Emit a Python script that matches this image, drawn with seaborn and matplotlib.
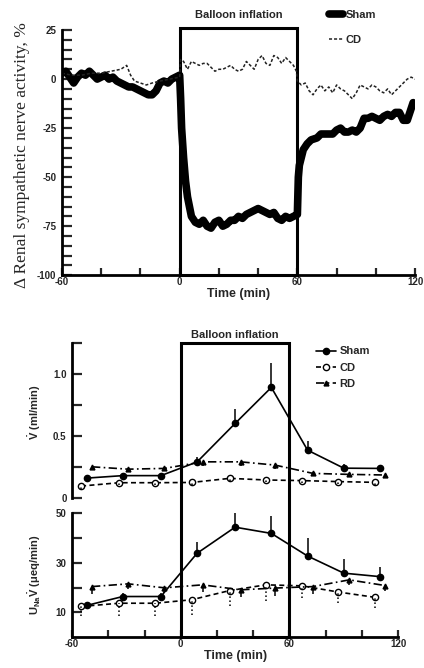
import numpy as np
import pandas as pd
import matplotlib.pyplot as plt
import matplotlib.transforms as mtransforms
from matplotlib.patches import Rectangle
import seaborn as sns

# top panel: renal sympathetic nerve activity (% change)
sham_t = [-60, -58, -56, -54, -52, -50, -48, -46, -44, -42, -40, -38, -36, -34, -32, -30,
          -28, -26, -24, -22, -20, -18, -16, -14, -12, -10, -8, -6, -4, -2, 0, 0.5, 1, 2,
          3, 4, 5, 6, 8, 10, 12, 14, 16, 18, 20, 22, 24, 26, 28, 30, 32, 34, 36, 38, 40,
          42, 44, 46, 48, 50, 52, 54, 56, 58, 60, 60.5, 61, 62, 63, 65, 67, 70, 72, 75,
          78, 80, 82, 84, 86, 88, 90, 92, 94, 96, 98, 100, 102, 104, 106, 108, 110, 112,
          114, 116, 118, 119]
sham_rsna = [3, 4, 1, -2, 1, 3, 2, 4, 2, 0, 1, 2, 0, 1, -1, -2,
             -3, -4, -4, -5, -6, -7, -8, -8, -6, -2, -1, -2, 0, 1, 2, -10, -25, -40,
             -52, -60, -65, -70, -73, -74, -72, -75, -76, -73, -72, -75, -74, -72, -72, -70, -71, -69, -68, -67, -66,
             -67, -68, -69, -68, -71, -72, -70, -71, -70, -69, -50, -44, -40, -36, -33, -31, -30, -28, -28,
             -28, -26, -25, -27, -27, -26, -27, -25, -20, -20, -19, -20, -21, -19, -18, -19, -17, -17,
             -21, -21, -15, -12]

cd_t = [-60, -55, -50, -45, -40, -35, -30, -27, -25, -23, -20, -17, -14, -10, -5, 0, 0.5,
        2, 4, 6, 8, 10, 12, 14, 16, 18, 20, 22, 24, 26, 28, 30, 32, 34, 36, 38, 40, 42,
        44, 46, 48, 50, 52, 54, 56, 58, 59.5, 60, 62, 64, 66, 68, 70, 72, 74, 76, 78, 80,
        82, 84, 86, 88, 90, 92, 94, 96, 98, 100, 102, 104, 106, 108, 110, 112, 114, 116,
        118, 120]
cd_rsna = [3, 2, 2, 3, 3, 4, 5, 7, 2, -1, -2, -3, -2, -1, 0, 1, 10,
           9, 5, 9, 8, 7, 8, 8, 6, 4, 5, 5, 6, 7, 5, 4, 5, 9, 7, 5, 10, 12,
           8, 7, 12, 11, 8, 11, 9, 7, 4, -1, -3, -2, -6, -8, -5, -3, -6, -4, -7, -3,
           -5, -6, -8, -10, -7, -3, -4, -5, -3, -4, -6, -7, -5, -8, -6, -4, -2, 0,
           1, 0]

# bottom panels: urine flow and sodium excretion
sham_x = [-52, -32, -11, 9, 30, 50, 70, 90, 110]
cd_x = [-55, -34, -14, 6, 27, 47, 67, 87, 107]
rd_x = [-49, -29, -9, 12, 33, 52, 73, 93, 113]

sham_v = [0.16, 0.18, 0.18, 0.29, 0.60, 0.89, 0.385, 0.24, 0.238]
sham_v_err = [0.02, 0.02, 0.02, 0.04, 0.12, 0.20, 0.07, 0.03, 0.03]
cd_v = [0.096, 0.123, 0.123, 0.125, 0.158, 0.145, 0.14, 0.132, 0.126]
cd_v_err = [0.02, 0.02, 0.02, 0.02, 0.02, 0.02, 0.02, 0.02, 0.02]
rd_v = [0.251, 0.232, 0.238, 0.291, 0.291, 0.265, 0.198, 0.19, 0.185]
rd_v_err = [0.02, 0.02, 0.02, 0.03, 0.03, 0.03, 0.02, 0.02, 0.02]

sham_u = [12.8, 16.4, 16.4, 33.8, 44.3, 41.8, 32.7, 25.8, 24.4]
sham_u_err = [1.5, 1.5, 1.5, 4.7, 6.2, 7.0, 7.1, 5.6, 4.0]
cd_u = [12.4, 13.7, 13.7, 15.1, 18.8, 21.1, 20.7, 18.2, 16.1]
cd_u_err = [4.0, 5.0, 5.0, 6.0, 6.4, 6.7, 5.0, 4.5, 4.4]
rd_u = [20.4, 21.5, 19.9, 21.1, 19.1, 19.8, 20.4, 23.1, 20.8]
rd_u_err = [3, 2, 2, 3, 3, 3, 3, 2, 2]

sns.set_style('white')
plt.rcParams['font.family'] = ['Liberation Sans', 'DejaVu Sans']
plt.rcParams['font.weight'] = 'bold'
plt.rcParams['axes.unicode_minus'] = False
plt.rcParams['mathtext.fontset'] = 'custom'
plt.rcParams['mathtext.rm'] = 'Liberation Sans:bold'
plt.rcParams['mathtext.it'] = 'Liberation Sans:bold'
plt.rcParams['mathtext.bf'] = 'Liberation Sans:bold'

fig = plt.figure(figsize=(4.24, 6.68), dpi=100)
ax1 = fig.add_axes([0.146, 0.588, 0.833, 0.367])
ax2 = fig.add_axes([0.170, 0.2545, 0.769, 0.2325])
ax3 = fig.add_axes([0.170, 0.046, 0.769, 0.186])


def style_axis(ax, bottom=True):
    sns.despine(ax=ax, bottom=not bottom)
    for s in ['left', 'bottom']:
        ax.spines[s].set_linewidth(2)
        ax.spines[s].set_color('k')
    ax.tick_params(axis='y', which='both', direction='in', length=7, width=1.6,
                   labelsize=7, pad=4, left=True)
    ax.tick_params(axis='x', which='both', direction='in', length=5, width=1.6,
                   labelsize=7, pad=1, bottom=bottom, labelbottom=bottom)
    ax.set_xlim(-60, 120)
    xt = np.arange(-60, 121, 20)
    ax.set_xticks(xt)
    ax.set_xticklabels([str(v) if v % 60 == 0 else '' for v in xt])


# ---- top panel ----
df_sham = pd.DataFrame({'t': sham_t, 'v': sham_rsna})
df_cd = pd.DataFrame({'t': cd_t, 'v': cd_rsna})
sns.lineplot(data=df_sham, x='t', y='v', ax=ax1, color='k', lw=5.5, label='Sham')
sns.lineplot(data=df_cd, x='t', y='v', ax=ax1, color='#222222', lw=1.1,
             linestyle=(0, (2, 1.3)), label='CD')
style_axis(ax1)
ax1.set_ylim(-100, 25)
ax1.set_yticks(np.arange(-100, 26, 25))
ax1.set_yticks(np.arange(-100, 26, 5), minor=True)
ax1.set_xlabel('Time (min)', fontsize=9, fontweight='bold', labelpad=1)
ax1.set_ylabel('\u0394 Renal sympathetic nerve activity, %', family='Liberation Serif',
               fontweight='normal', fontsize=12.5)
ax1.yaxis.set_label_coords(-0.09, 0.49)
ax1.add_patch(Rectangle((0, -100), 60, 126, fill=False, lw=2.2, ec='k', clip_on=False))
tr1 = mtransforms.blended_transform_factory(ax1.transData, fig.transFigure)
ax1.text(30, 0.978, 'Balloon inflation', transform=tr1, ha='center', va='center',
         fontsize=8, fontweight='bold')
ax1.legend(loc='upper left', bbox_to_anchor=(0.765, 0.992), bbox_transform=fig.transFigure,
           frameon=False, fontsize=8, handlelength=1.3, handletextpad=0.2,
           labelspacing=1.4, borderaxespad=0)

# ---- bottom panels ----
def group_plot(ax, xs, ys, errs, marker, mfc, ls, label, up, err_ls):
    d = pd.DataFrame({'t': xs, 'v': ys})
    sns.lineplot(data=d, x='t', y='v', ax=ax, color='k', lw=1.2, linestyle=ls,
                 marker=marker, markersize=4.5 if marker != '^' else 3.5,
                 markerfacecolor=mfc, markeredgecolor='k', markeredgewidth=1,
                 label=label)
    lo = [y if up else y - e for y, e in zip(ys, errs)]
    hi = [y + e if up else y for y, e in zip(ys, errs)]
    ax.vlines(xs, lo, hi, color='k', lw=1.1, linestyles=err_ls)


group_plot(ax2, sham_x, sham_v, sham_v_err, 'o', 'k', '-', 'Sham', True, 'solid')
group_plot(ax2, cd_x, cd_v, cd_v_err, 'o', 'white', (0, (3, 2)), 'CD', False, 'dotted')
group_plot(ax2, rd_x, rd_v, rd_v_err, '^', 'k', (0, (5, 2, 1, 2)), 'RD', False, 'solid')
group_plot(ax3, sham_x, sham_u, sham_u_err, 'o', 'k', '-', None, True, 'solid')
group_plot(ax3, cd_x, cd_u, cd_u_err, 'o', 'white', (0, (3, 2)), None, False, 'dotted')
group_plot(ax3, rd_x, rd_u, rd_u_err, '^', 'k', (0, (5, 2, 1, 2)), None, False, 'solid')

style_axis(ax2, bottom=False)
ax2.set_ylim(0, 1.25)
ax2.set_yticks([0, 0.5, 1.0])
ax2.set_yticklabels(['0', '0.5', '1.0'])
ax2.set_yticks([0.25, 0.75, 1.25], minor=True)
ax2.set_xlabel('')
ax2.set_ylabel(r'$\dot{V}$ (ml/min)', fontsize=8, fontweight='bold')
ax2.yaxis.set_label_coords(-0.09, 0.55)

style_axis(ax3)
ax3.set_ylim(0, 50)
ax3.set_yticks([10, 30, 50])
ax3.set_yticks([20, 40], minor=True)
ax3.set_xlabel('Time (min)', fontsize=9, fontweight='bold', labelpad=1)
ax3.set_ylabel(r'U$_{Na}\dot{V}$ ($\mu$eq/min)', fontsize=8, fontweight='bold')
ax3.yaxis.set_label_coords(-0.09, 0.5)
if ax3.get_legend() is not None:
    ax3.get_legend().remove()

y_bot = ax3.get_position().y0
y_top = ax2.get_position().y1
tr3 = mtransforms.blended_transform_factory(ax3.transData, fig.transFigure)
ax3.add_patch(Rectangle((0, y_bot), 60, y_top - y_bot, transform=tr3, fill=False,
                        lw=2.2, ec='k', clip_on=False))
ax3.text(30, 0.4985, 'Balloon inflation', transform=tr3, ha='center', va='center',
         fontsize=8, fontweight='bold')
ax2.legend(loc='upper left', bbox_to_anchor=(0.735, 0.488), bbox_transform=fig.transFigure,
           frameon=False, fontsize=8, handlelength=1.8, handletextpad=0.3,
           labelspacing=0.55, borderaxespad=0, numpoints=1)

fig.savefig('out.png', dpi=100)
